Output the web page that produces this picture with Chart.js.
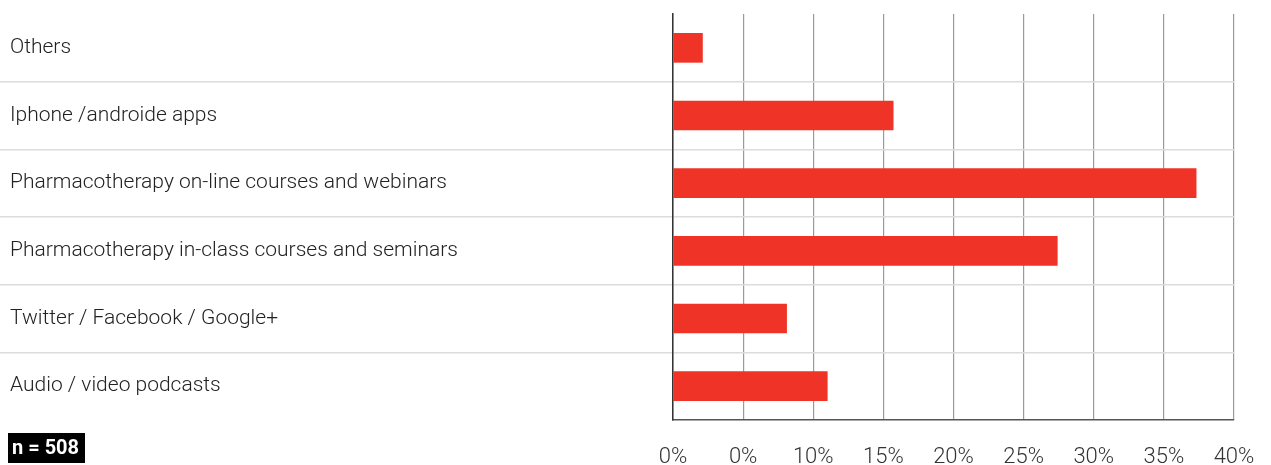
<!DOCTYPE html>
<html>
<head>
<meta charset="utf-8">
<script src="https://cdn.jsdelivr.net/npm/chart.js@4"></script>
<style>
  html, body { margin: 0; padding: 0; background: #fff; }
  #wrap { width: 1271px; height: 465px; position: relative; }
</style>
</head>
<body>
<div id="wrap"><canvas id="chart"></canvas></div>
<script>
// Survey categories, top to bottom
const categories = [
  'Others',
  'Iphone /androide apps',
  'Pharmacotherapy on-line courses and webinars',
  'Pharmacotherapy in-class courses and seminars',
  'Twitter / Facebook / Google+',
  'Audio / video podcasts'
];
// Share of respondents (%)
const shares = [2.1, 15.7, 37.3, 27.4, 8.1, 11.0];
// Axis tick labels as printed
const tickLabels = ['0%', '0%', '10%', '15%', '20%', '25%', '30%', '35%', '40%'];
const sampleNote = 'n = 508';

const FONT = 'Roboto';

// Black "n = ..." badge in the lower left corner
const sampleBadge = {
  id: 'sampleBadge',
  afterDraw(chart) {
    const ctx = chart.ctx;
    ctx.save();
    ctx.fillStyle = '#000';
    ctx.fillRect(8, 433, 77, 30);
    ctx.fillStyle = '#fff';
    ctx.font = '700 20px ' + FONT;
    ctx.textBaseline = 'middle';
    ctx.textAlign = 'left';
    ctx.fillText(sampleNote, 12, 449);
    ctx.restore();
  }
};

new Chart(document.getElementById('chart'), {
  type: 'bar',
  data: {
    labels: categories,
    datasets: [{
      data: shares,
      backgroundColor: '#EF3327',
      borderWidth: 0,
      barThickness: 29
    }]
  },
  plugins: [sampleBadge],
  options: {
    indexAxis: 'y',
    responsive: true,
    maintainAspectRatio: false,
    animation: false,
    layout: { padding: { top: 14, left: 10, right: 37, bottom: 0 } },
    plugins: { legend: { display: false }, tooltip: { enabled: false } },
    scales: {
      x: {
        min: 0,
        max: 40,
        ticks: {
          stepSize: 5,
          padding: 24,
          color: '#333',
          font: { family: FONT, size: 22, weight: '300' },
          callback: (v, i) => tickLabels[i]
        },
        grid: { color: '#9a9a9a', lineWidth: 1.2, drawTicks: false },
        border: { color: '#555', width: 1.5 },
        afterFit: s => { s.height = 45; s.paddingLeft = 0; s.paddingRight = 0; }
      },
      y: {
        ticks: {
          crossAlign: 'far',
          padding: 0,
          color: '#222',
          font: { family: FONT, size: 21, weight: '300' }
        },
        grid: {
          offset: true,
          tickLength: 673,
          lineWidth: 1.5,
          color: c => (c.type === 'tick' && c.index > 0) ? '#dcdcdc' : 'rgba(0,0,0,0)'
        },
        border: { color: '#333', width: 1.5 },
        afterFit: s => { s.width = 663; }
      }
    }
  }
});
</script>
</body>
</html>
